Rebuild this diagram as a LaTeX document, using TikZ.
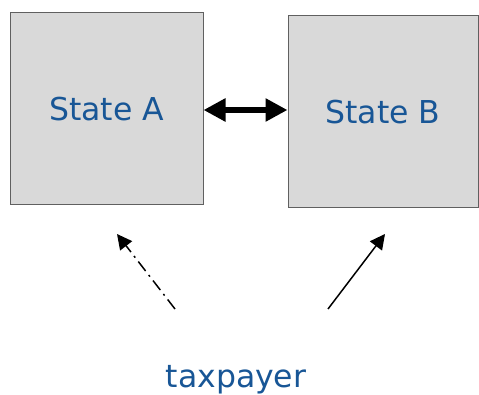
\documentclass[tikz,border=0pt]{standalone}
\usepackage{fontspec}
\usepackage{xcolor}
\usetikzlibrary{positioning,arrows.meta}
\newfontfamily\boxfont{DejaVu Sans}
\definecolor{stateblue}{RGB}{24,86,150}
\definecolor{boxgray}{RGB}{217,217,217}
\definecolor{edgegray}{RGB}{96,96,96}

\begin{document}
\begin{tikzpicture}[x=1pt,y=-1pt,every node/.style={font=\boxfont\fontsize{31.5}{36}\selectfont,text=stateblue}]
\useasboundingbox (0,0) rectangle (479,395);
\tikzset{statebox/.style={draw=edgegray,line width=1pt,fill=boxgray,inner sep=0pt}}
\node[statebox,minimum width=193pt,minimum height=192pt] (a) at (106.5,109) {State A};
\node[statebox,minimum width=190pt,minimum height=192pt] (b) at (383,112) {State B};
\node (tp) at (236,380) {taxpayer};
\coordinate (da) at (175,309);
\coordinate (ta) at (117,234);
\coordinate (db) at (328,309);
\coordinate (tb) at (385,234);
\draw[line width=6pt,{Triangle[length=22pt,width=22pt]}-{Triangle[length=22pt,width=22pt]}] (a.east |- 0,110) -- (b.west |- 0,110);
\draw[line width=1.5pt,dash pattern=on 12pt off 5pt on 2pt off 5pt,-{Triangle[length=15pt,width=15pt]}] (da) -- (ta);
\draw[line width=1.5pt,-{Triangle[length=15pt,width=15pt]}] (db) -- (tb);
\end{tikzpicture}
\end{document}
